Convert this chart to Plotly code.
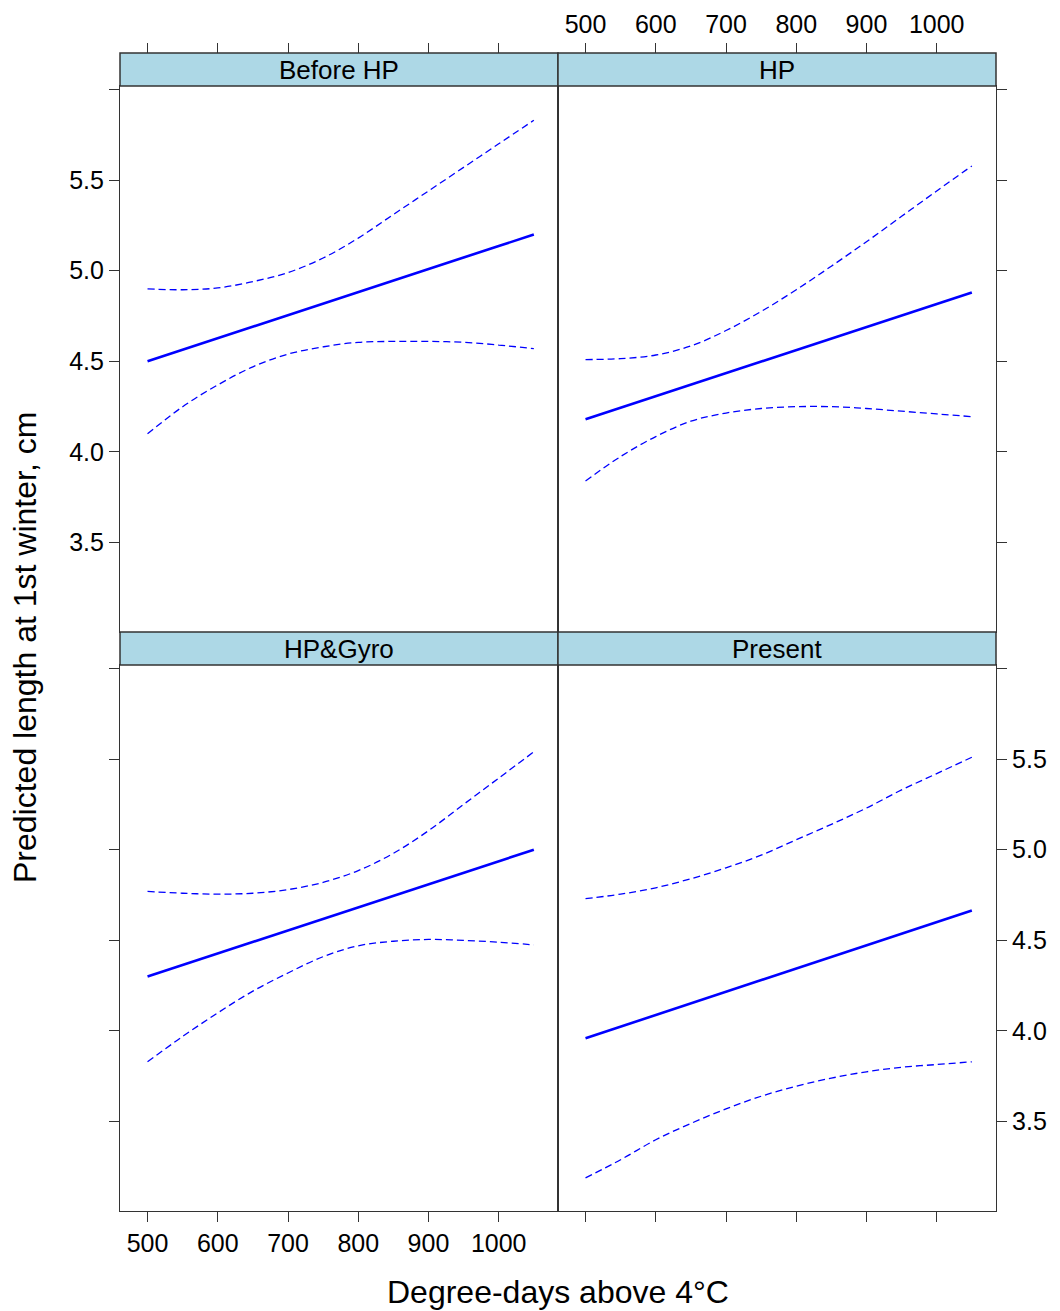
import plotly.graph_objects as go

# ---------------- data ----------------
deg_days = [500, 550, 600, 650, 700, 750, 800, 850, 900, 950, 1000, 1050]

periods = ["Before HP", "HP", "HP&Gyro", "Present"]

fit_before = [4.500, 4.564, 4.627, 4.691, 4.755, 4.818, 4.882, 4.945, 5.009, 5.073, 5.136, 5.200]
upr_before = [4.90, 4.895, 4.905, 4.94, 4.99, 5.07, 5.18, 5.31, 5.44, 5.57, 5.70, 5.83]
lwr_before = [4.10, 4.25, 4.37, 4.47, 4.54, 4.58, 4.605, 4.61, 4.61, 4.605, 4.59, 4.57]

fit_hp = [4.180, 4.244, 4.307, 4.371, 4.435, 4.498, 4.562, 4.625, 4.689, 4.753, 4.816, 4.880]
upr_hp = [4.51, 4.515, 4.535, 4.585, 4.67, 4.775, 4.895, 5.025, 5.16, 5.30, 5.44, 5.578]
lwr_hp = [3.84, 3.975, 4.085, 4.17, 4.215, 4.24, 4.25, 4.25, 4.24, 4.225, 4.21, 4.195]

fit_gyro = [4.300, 4.364, 4.427, 4.491, 4.555, 4.618, 4.682, 4.745, 4.809, 4.873, 4.936, 5.000]
upr_gyro = [4.77, 4.76, 4.755, 4.76, 4.78, 4.82, 4.885, 4.98, 5.105, 5.25, 5.395, 5.54]
lwr_gyro = [3.83, 3.97, 4.10, 4.22, 4.32, 4.41, 4.47, 4.495, 4.505, 4.50, 4.49, 4.475]

fit_present = [3.960, 4.024, 4.088, 4.152, 4.216, 4.280, 4.345, 4.409, 4.473, 4.537, 4.601, 4.665]
upr_present = [4.73, 4.755, 4.79, 4.84, 4.90, 4.97, 5.055, 5.14, 5.23, 5.33, 5.42, 5.51]
lwr_present = [3.19, 3.29, 3.40, 3.49, 3.57, 3.64, 3.695, 3.74, 3.775, 3.80, 3.815, 3.83]

x_ticks = [500, 600, 700, 800, 900, 1000]
x_ticklabels = ["500", "600", "700", "800", "900", "1000"]
y_ticks = [3.5, 4.0, 4.5, 5.0, 5.5, 6.0]
y_ticklabels = ["3.5", "4.0", "4.5", "5.0", "5.5", ""]

x_title = "Degree-days above 4°C"
y_title = "Predicted length at 1st winter, cm"

# ---------------- layout geometry ----------------
W, H = 1060, 1311
FONT = "Liberation Sans, Arial, sans-serif"
LINE = "#333333"
BLUE = "#0000ff"
STRIP = "#add8e6"

def px_x(p):
    return p / W

def px_y(p):
    return 1 - p / H

left_dom = [px_x(120), px_x(558)]
right_dom = [px_x(558), px_x(996)]
top_dom = [px_y(632), px_y(86)]
bot_dom = [px_y(1211), px_y(665)]
top_strip = [px_y(86), px_y(53)]
bot_strip = [px_y(665), px_y(632)]

x_range = [460.8, 1084.4]
y_range = [3.007, 6.019]

fig = go.Figure()

panels = [
    ("x", "y", fit_before, upr_before, lwr_before),
    ("x2", "y2", fit_hp, upr_hp, lwr_hp),
    ("x3", "y3", fit_gyro, upr_gyro, lwr_gyro),
    ("x4", "y4", fit_present, upr_present, lwr_present),
]
for xa, ya, fit, upr, lwr in panels:
    for band in (upr, lwr):
        fig.add_trace(go.Scatter(
            x=deg_days, y=band, xaxis=xa, yaxis=ya, mode="lines",
            line=dict(color=BLUE, width=1.3, dash="7px,4px", shape="spline"),
            showlegend=False, hoverinfo="skip"))
    fig.add_trace(go.Scatter(
        x=deg_days, y=fit, xaxis=xa, yaxis=ya, mode="lines",
        line=dict(color=BLUE, width=2.6),
        showlegend=False, hoverinfo="skip"))

# dummy traces for the tick axes above the top strips
fig.add_trace(go.Scatter(x=[None], y=[None], xaxis="x5", yaxis="y",
                         showlegend=False, hoverinfo="skip"))
fig.add_trace(go.Scatter(x=[None], y=[None], xaxis="x6", yaxis="y2",
                         showlegend=False, hoverinfo="skip"))

tickfont = dict(family=FONT, size=25, color="black")

def xax(domain, anchor, ticks, labels, side="bottom"):
    return dict(domain=domain, anchor=anchor, range=x_range, side=side,
                showline=True, mirror=True, linecolor=LINE, linewidth=1.2,
                ticks=ticks, ticklen=10, tickwidth=1.2, tickcolor=LINE,
                tickvals=x_ticks, ticktext=x_ticklabels,
                showticklabels=labels, tickfont=tickfont,
                showgrid=False, zeroline=False, fixedrange=True)

def yax(domain, anchor, side, labels):
    return dict(domain=domain, anchor=anchor, range=y_range, side=side,
                showline=True, mirror=True, linecolor=LINE, linewidth=1.2,
                ticks="outside", ticklen=10, tickwidth=1.2, tickcolor=LINE,
                tickvals=y_ticks, ticktext=y_ticklabels,
                showticklabels=labels, tickfont=tickfont,
                showgrid=False, zeroline=False, fixedrange=True)

strip_pos = px_y(53)

fig.update_layout(
    width=W, height=H,
    margin=dict(l=0, r=0, t=0, b=0),
    paper_bgcolor="white", plot_bgcolor="white",
    font=dict(family=FONT, color="black"),
    xaxis=xax(left_dom, "y", "", False),
    yaxis=yax(top_dom, "x", "left", True),
    xaxis2=xax(right_dom, "y2", "", False),
    yaxis2=yax(top_dom, "x2", "right", False),
    xaxis3=xax(left_dom, "y3", "outside", True),
    yaxis3=yax(bot_dom, "x3", "left", False),
    xaxis4=xax(right_dom, "y4", "outside", False),
    yaxis4=yax(bot_dom, "x4", "right", True),
    xaxis5=dict(domain=left_dom, overlaying="x", anchor="free", position=strip_pos,
                side="top", range=x_range, ticks="outside", ticklen=10,
                tickwidth=1.2, tickcolor=LINE, tickvals=x_ticks, ticktext=x_ticklabels,
                showticklabels=False, showline=False, showgrid=False,
                zeroline=False, fixedrange=True),
    xaxis6=dict(domain=right_dom, overlaying="x2", anchor="free", position=strip_pos,
                side="top", range=x_range, ticks="outside", ticklen=10,
                tickwidth=1.2, tickcolor=LINE, tickvals=x_ticks, ticktext=x_ticklabels,
                showticklabels=True, tickfont=tickfont, showline=False,
                showgrid=False, zeroline=False, fixedrange=True),
)

# strips
strips = [
    (left_dom, top_strip, periods[0]),
    (right_dom, top_strip, periods[1]),
    (left_dom, bot_strip, periods[2]),
    (right_dom, bot_strip, periods[3]),
]
for xd, yd, label in strips:
    fig.add_shape(type="rect", xref="paper", yref="paper",
                  x0=xd[0], x1=xd[1], y0=yd[0], y1=yd[1],
                  fillcolor=STRIP, line=dict(color=LINE, width=1.5), layer="above")
    fig.add_annotation(x=(xd[0] + xd[1]) / 2, y=(yd[0] + yd[1]) / 2,
                       xref="paper", yref="paper", text=label, showarrow=False,
                       font=dict(family=FONT, size=26, color="black"),
                       xanchor="center", yanchor="middle")

# axis titles
fig.add_annotation(x=px_x(558), y=px_y(1292), xref="paper", yref="paper",
                   text=x_title, showarrow=False,
                   font=dict(family=FONT, size=32, color="black"),
                   xanchor="center", yanchor="middle")
fig.add_annotation(x=px_x(25), y=px_y(648), xref="paper", yref="paper",
                   text=y_title, showarrow=False, textangle=-90,
                   font=dict(family=FONT, size=32, color="black"),
                   xanchor="center", yanchor="middle")

fig.write_html("out.html")
